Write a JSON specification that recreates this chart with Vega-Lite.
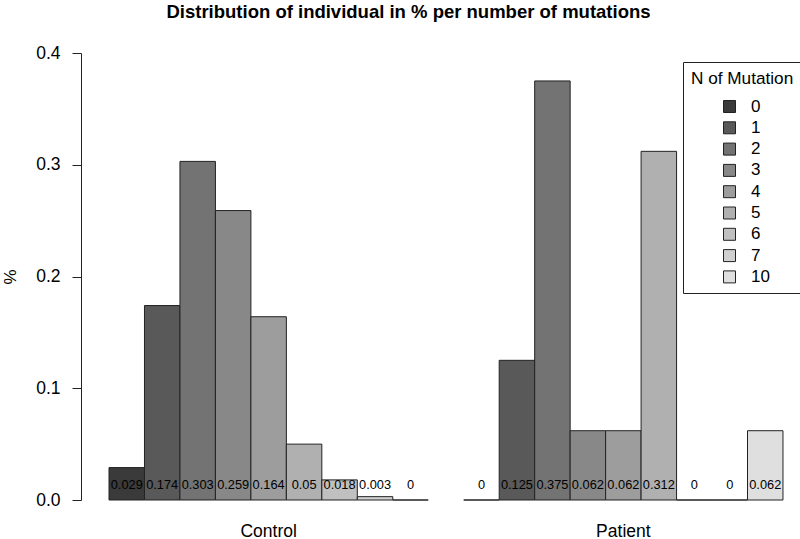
{
  "$schema": "https://vega.github.io/schema/vega-lite/v6.json",
  "width": 719,
  "height": 447,
  "autosize": {"type": "none"},
  "padding": {"left": 81, "top": 53, "right": 0, "bottom": 39},
  "background": "white",
  "config": {
    "view": {"stroke": null},
    "font": "Liberation Sans"
  },
  "title": {
    "text": "Distribution of individual in % per number of mutations",
    "fontSize": 18.5,
    "fontWeight": "bold",
    "font": "Liberation Sans",
    "color": "#000000",
    "anchor": "middle",
    "baseline": "alphabetic",
    "offset": 16,
    "dy": 8,
    "dx": -32
  },
  "data": {
    "values": [
      {"group": "Control", "mutation": "0", "value": 0.029},
      {"group": "Control", "mutation": "1", "value": 0.174},
      {"group": "Control", "mutation": "2", "value": 0.303},
      {"group": "Control", "mutation": "3", "value": 0.259},
      {"group": "Control", "mutation": "4", "value": 0.164},
      {"group": "Control", "mutation": "5", "value": 0.05},
      {"group": "Control", "mutation": "6", "value": 0.018},
      {"group": "Control", "mutation": "7", "value": 0.003},
      {"group": "Control", "mutation": "10", "value": 0},
      {"group": "Patient", "mutation": "0", "value": 0},
      {"group": "Patient", "mutation": "1", "value": 0.125},
      {"group": "Patient", "mutation": "2", "value": 0.375},
      {"group": "Patient", "mutation": "3", "value": 0.062},
      {"group": "Patient", "mutation": "4", "value": 0.062},
      {"group": "Patient", "mutation": "5", "value": 0.312},
      {"group": "Patient", "mutation": "6", "value": 0},
      {"group": "Patient", "mutation": "7", "value": 0},
      {"group": "Patient", "mutation": "10", "value": 0.062}
    ]
  },
  "encoding": {
    "x": {
      "field": "group",
      "type": "nominal",
      "scale": {"paddingInner": 0.1, "paddingOuter": 0.06347, "align": 0.622},
      "axis": {
        "title": null,
        "labelAngle": 0,
        "domain": false,
        "ticks": false,
        "labelFontSize": 17.5,
        "labelColor": "#000000",
        "labelPadding": 22,
        "labelFont": "Liberation Sans"
      }
    },
    "xOffset": {
      "field": "mutation",
      "type": "nominal",
      "sort": ["0", "1", "2", "3", "4", "5", "6", "7", "10"],
      "scale": {"paddingInner": 0, "paddingOuter": 0}
    }
  },
  "layer": [
    {
      "mark": {"type": "bar", "stroke": "#222222", "strokeWidth": 1},
      "encoding": {
        "y": {
          "field": "value",
          "type": "quantitative",
          "scale": {"domain": [0, 0.4], "nice": false, "zero": true},
          "axis": {
            "title": "%",
            "titleFontSize": 17,
            "titleFontWeight": "normal",
            "titleColor": "#000000",
            "titlePadding": 16,
            "titleFont": "Liberation Sans",
            "values": [0, 0.1, 0.2, 0.3, 0.4],
            "format": ".1f",
            "grid": false,
            "tickSize": 9,
            "tickColor": "#222222",
            "domainColor": "#222222",
            "labelFontSize": 17.5,
            "labelColor": "#000000",
            "labelPadding": 12,
            "labelFont": "Liberation Sans"
          }
        },
        "fill": {
          "field": "mutation",
          "type": "nominal",
          "sort": ["0", "1", "2", "3", "4", "5", "6", "7", "10"],
          "scale": {
            "domain": ["0", "1", "2", "3", "4", "5", "6", "7", "10"],
            "range": ["#3a3a3a", "#595959", "#737373", "#888888", "#9d9d9d", "#b0b0b0", "#c0c0c0", "#d0d0d0", "#dfdfdf"]
          },
          "legend": {
            "title": "N of Mutation",
            "orient": "none",
            "legendX": 602,
            "legendY": 9,
            "direction": "vertical",
            "strokeColor": "#222222",
            "fillColor": "white",
            "padding": 8,
            "titleFontSize": 17.2,
            "titleFontWeight": "normal",
            "titleColor": "#000000",
            "titleFont": "Liberation Sans",
            "titlePadding": 10.8,
            "symbolType": "square",
            "symbolSize": 144,
            "symbolStrokeColor": "#222222",
            "symbolStrokeWidth": 1,
            "symbolOffset": 30,
            "labelOffset": 13,
            "labelFontSize": 17,
            "labelColor": "#000000",
            "labelFont": "Liberation Sans",
            "rowPadding": 3.3
          }
        }
      }
    },
    {
      "mark": {"type": "text", "fontSize": 12.8, "color": "#000000", "baseline": "middle", "align": "center", "dy": -15, "font": "Liberation Sans"},
      "encoding": {
        "y": {"datum": 0, "type": "quantitative"},
        "text": {"field": "value", "type": "nominal"}
      }
    }
  ]
}
